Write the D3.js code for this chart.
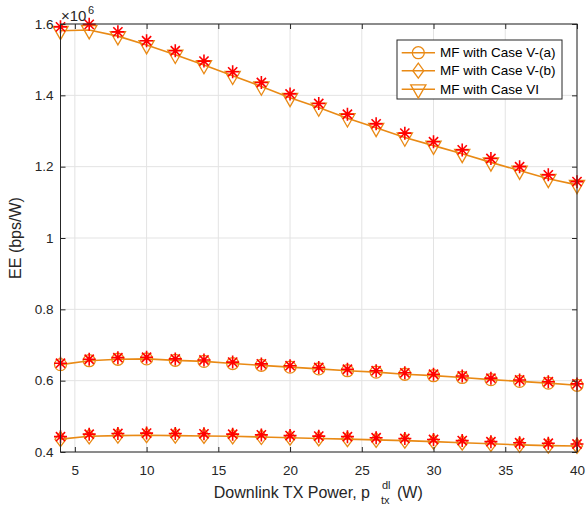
<!DOCTYPE html>
<html>
<head>
<meta charset="utf-8">
<script src="https://cdn.jsdelivr.net/npm/d3@7"></script>
<style>
  html, body { margin: 0; padding: 0; background: #fff; }
  svg { display: block; font-family: "Liberation Sans", Arial, Helvetica, sans-serif; }
</style>
</head>
<body>
<svg id="chart" width="587" height="506"></svg>
<script>
// Downlink transmit power (W)
const txPower = [4, 6, 8, 10, 12, 14, 16, 18, 20, 22, 24, 26, 28, 30, 32, 34, 36, 38, 40];

// Energy efficiency, in units of 1e6 bps/W — MF analytic curves
const eeCaseVa = [0.645, 0.656, 0.660, 0.661, 0.657, 0.654, 0.648, 0.643, 0.638, 0.633, 0.628, 0.624, 0.618, 0.614, 0.609, 0.603, 0.598, 0.593, 0.587];
const eeCaseVb = [0.436, 0.444, 0.446, 0.447, 0.446, 0.445, 0.444, 0.442, 0.440, 0.438, 0.436, 0.434, 0.432, 0.429, 0.426, 0.423, 0.420, 0.418, 0.417];
const eeCaseVI = [1.581, 1.583, 1.566, 1.541, 1.514, 1.485, 1.455, 1.425, 1.393, 1.366, 1.336, 1.309, 1.282, 1.259, 1.236, 1.212, 1.189, 1.166, 1.149];

// Simulated points (red asterisks)
const simCaseVa = [0.649, 0.660, 0.6645, 0.6656, 0.661, 0.658, 0.652, 0.647, 0.642, 0.637, 0.632, 0.628, 0.622, 0.618, 0.613, 0.607, 0.602, 0.597, 0.591];
const simCaseVb = [0.443, 0.450, 0.452, 0.453, 0.452, 0.451, 0.450, 0.448, 0.446, 0.4445, 0.443, 0.440, 0.438, 0.435, 0.432, 0.429, 0.426, 0.4245, 0.4225];
const simCaseVI = [1.592, 1.599, 1.578, 1.553, 1.525, 1.496, 1.466, 1.436, 1.404, 1.377, 1.347, 1.320, 1.294, 1.270, 1.247, 1.223, 1.200, 1.177, 1.158];

const legendLabels = ["MF with Case V-(a)", "MF with Case V-(b)", "MF with Case VI"];
const xTicks = [5, 10, 15, 20, 25, 30, 35, 40];
const yTicks = [0.4, 0.6, 0.8, 1.0, 1.2, 1.4, 1.6];

const ORANGE = "#E98A15";
const AXIS = "#262626";
const GRID = "#e3e3e3";

const svg = d3.select("#chart");
const plotL = 60.5, plotR = 577, plotT = 24, plotB = 452;

const x = d3.scaleLinear().domain([4, 40]).range([plotL, plotR]);
const y = d3.scaleLinear().domain([0.4, 1.6]).range([plotB, plotT]);

// grid
const grid = svg.append("g");
grid.selectAll(null).data(xTicks).join("line")
  .attr("x1", d => x(d)).attr("x2", d => x(d))
  .attr("y1", plotT).attr("y2", plotB)
  .attr("stroke", GRID).attr("stroke-width", 1);
grid.selectAll(null).data(yTicks).join("line")
  .attr("x1", plotL).attr("x2", plotR)
  .attr("y1", d => y(d)).attr("y2", d => y(d))
  .attr("stroke", GRID).attr("stroke-width", 1);

// marker shapes
const shapes = {
  circle: g => g.append("circle").attr("r", 6),
  diamond: g => g.append("path").attr("d", "M0,-7.5L5.5,0L0,7.5L-5.5,0Z"),
  triangle: g => g.append("path").attr("d", "M-7.6,-4.4L7.6,-4.4L0,8.8Z")
};

const series = [
  { values: eeCaseVa, sim: simCaseVa, shape: "circle" },
  { values: eeCaseVb, sim: simCaseVb, shape: "diamond" },
  { values: eeCaseVI, sim: simCaseVI, shape: "triangle" }
];

const line = d3.line().x(d => x(d[0])).y(d => y(d[1]));

const plot = svg.append("g");
series.forEach(s => {
  const pts = txPower.map((p, i) => [p, s.values[i]]);
  plot.append("path").datum(pts)
    .attr("d", line).attr("fill", "none")
    .attr("stroke", ORANGE).attr("stroke-width", 1.6);
  pts.forEach(p => {
    const g = plot.append("g").attr("transform", `translate(${x(p[0])},${y(p[1])})`)
      .attr("fill", "none").attr("stroke", ORANGE).attr("stroke-width", 1.3);
    shapes[s.shape](g);
  });
});

// asterisk markers for simulated values
const ast = 6.5, astD = ast * 0.7071;
const astPath = `M${-ast},0L${ast},0M0,${-ast}L0,${ast}M${-astD},${-astD}L${astD},${astD}M${-astD},${astD}L${astD},${-astD}`;
series.forEach(s => {
  plot.selectAll(null).data(txPower.map((p, i) => [p, s.sim[i]])).join("path")
    .attr("transform", d => `translate(${x(d[0])},${y(d[1])})`)
    .attr("d", astPath).attr("fill", "none")
    .attr("stroke", "#ff0000").attr("stroke-width", 1.6);
});

// axes (ticks pointing inward, box on)
function styleAxis(g) {
  g.select(".domain").remove();
  g.selectAll("line").attr("stroke", AXIS);
  g.selectAll("text").attr("fill", AXIS).attr("font-size", "13.5px")
    .attr("font-family", "Liberation Sans, Arial, sans-serif");
}
svg.append("g").attr("transform", `translate(0,${plotB})`)
  .call(d3.axisBottom(x).tickValues(xTicks).tickSize(-5).tickPadding(13))
  .call(styleAxis);
svg.append("g").attr("transform", `translate(0,${plotT})`)
  .call(d3.axisTop(x).tickValues(xTicks).tickSize(-5).tickFormat(""))
  .call(styleAxis);
svg.append("g").attr("transform", `translate(${plotL},0)`)
  .call(d3.axisLeft(y).tickValues(yTicks).tickSize(-5).tickPadding(7).tickFormat(d3.format("~g")))
  .call(styleAxis);
svg.append("g").attr("transform", `translate(${plotR},0)`)
  .call(d3.axisRight(y).tickValues(yTicks).tickSize(-5).tickFormat(""))
  .call(styleAxis);

svg.append("rect").attr("x", plotL).attr("y", plotT)
  .attr("width", plotR - plotL).attr("height", plotB - plotT)
  .attr("fill", "none").attr("stroke", AXIS).attr("stroke-width", 1);

// exponent label
const expo = svg.append("text").attr("x", 61).attr("y", 20.5).attr("fill", AXIS)
  .attr("font-size", "15px");
expo.append("tspan").text("\u00d710");
expo.append("tspan").attr("font-size", "11px").attr("dx", 1.5).attr("dy", -7).text("6");

// axis titles
svg.append("text").attr("x", 370).attr("y", 498)
  .attr("text-anchor", "end").attr("fill", AXIS).attr("font-size", "16px")
  .text("Downlink TX Power, p");
svg.append("text").attr("x", 382).attr("y", 489)
  .attr("fill", AXIS).attr("font-size", "11px").text("dl");
svg.append("text").attr("x", 381).attr("y", 504)
  .attr("fill", AXIS).attr("font-size", "11px").text("tx");
svg.append("text").attr("x", 397).attr("y", 498)
  .attr("fill", AXIS).attr("font-size", "16px").text("(W)");

svg.append("text")
  .attr("transform", `translate(21,${(plotT + plotB) / 2}) rotate(-90)`)
  .attr("text-anchor", "middle").attr("fill", AXIS).attr("font-size", "16px")
  .text("EE (bps/W)");

// legend
const lg = svg.append("g").attr("transform", "translate(397,40)");
lg.append("rect").attr("width", 165).attr("height", 59)
  .attr("fill", "#fff").attr("stroke", AXIS).attr("stroke-width", 1);
const rows = [12.7, 30.7, 49.3];
series.forEach((s, i) => {
  const r = lg.append("g").attr("transform", `translate(0,${rows[i]})`);
  r.append("line").attr("x1", 4.7).attr("x2", 38).attr("stroke", ORANGE).attr("stroke-width", 1.6);
  const m = r.append("g").attr("transform", "translate(21.3,0)")
    .attr("fill", "none").attr("stroke", ORANGE).attr("stroke-width", 1.3);
  shapes[s.shape](m);
  r.append("text").attr("x", 43).attr("dy", "0.35em").attr("fill", "#000")
    .attr("font-size", "13.5px").text(legendLabels[i]);
});
</script>
</body>
</html>
